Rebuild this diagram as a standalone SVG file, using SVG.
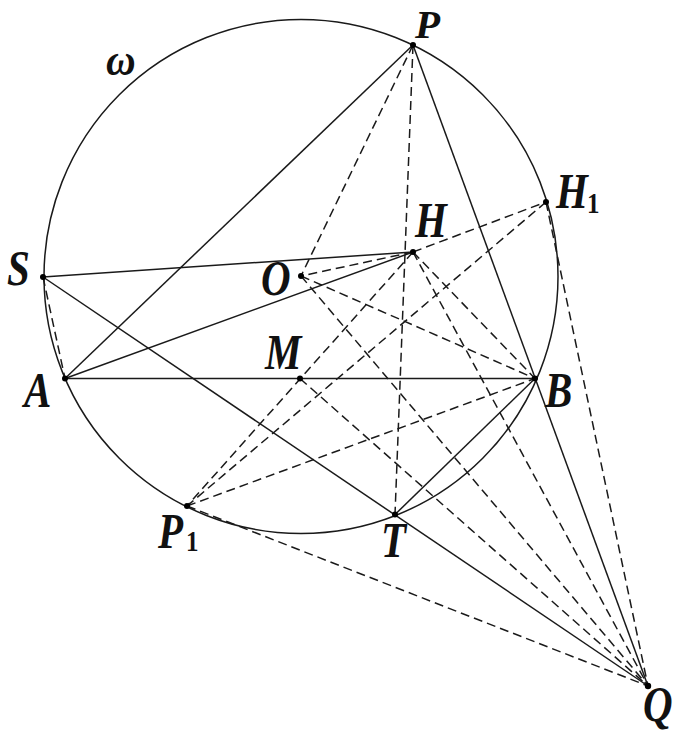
<svg xmlns="http://www.w3.org/2000/svg" width="684" height="734" viewBox="0 0 684 734">
<style>
.s{stroke:#1a1a1a;stroke-width:1.5;fill:none}
.d{stroke:#1a1a1a;stroke-width:1.5;fill:none;stroke-dasharray:9 5}
.pt{fill:#000}
text{font-family:"Liberation Serif",serif;font-weight:700;fill:#111}
.lb{font-style:italic;font-size:41px}
.sub{font-style:normal;font-size:25px}
</style>
<rect width="684" height="734" fill="#fff"/>
<g id="circle-omega"><circle class="s" cx="301" cy="276.5" r="257"/></g>
<g id="connectors">
<line class="s" x1="413" y1="45" x2="65" y2="378.5"/>
<line class="s" x1="413" y1="45" x2="648" y2="686"/>
<line class="s" x1="43" y1="277" x2="413" y2="252"/>
<line class="s" x1="65" y1="378.5" x2="413" y2="252"/>
<line class="s" x1="65" y1="378.5" x2="535" y2="378.5"/>
<line class="s" x1="43" y1="277" x2="648" y2="686"/>
<line class="s" x1="395" y1="514.5" x2="535" y2="378.5"/>
<line class="d" x1="43" y1="277" x2="65" y2="378.5"/>
<line class="d" x1="413" y1="45" x2="301" y2="276"/>
<line class="d" x1="413" y1="45" x2="395" y2="514.5"/>
<line class="d" x1="413" y1="252" x2="301" y2="276"/>
<line class="d" x1="413" y1="252" x2="546" y2="202"/>
<line class="d" x1="413" y1="252" x2="187" y2="506"/>
<line class="d" x1="413" y1="252" x2="535" y2="378.5"/>
<line class="d" x1="413" y1="252" x2="648" y2="686"/>
<line class="d" x1="301" y1="276" x2="535" y2="378.5"/>
<line class="d" x1="301" y1="276" x2="648" y2="686"/>
<line class="d" x1="300" y1="378.5" x2="648" y2="686"/>
<line class="d" x1="546" y1="202" x2="187" y2="506"/>
<line class="d" x1="546" y1="202" x2="648" y2="686"/>
<line class="d" x1="187" y1="506" x2="535" y2="378.5"/>
<line class="d" x1="187" y1="506" x2="648" y2="686"/>
</g>
<g id="P"><circle class="pt" cx="413" cy="45" r="3"/><text class="lb" x="415" y="38">P</text></g>
<g id="H1"><circle class="pt" cx="546" cy="202" r="3"/><text class="lb" transform="translate(556,208) scale(1,1.22)">H</text><text class="sub" transform="translate(587,213) scale(1,1.15)">1</text></g>
<g id="H"><circle class="pt" cx="413" cy="252" r="3"/><text class="lb" transform="translate(415,237) scale(1,1.22)">H</text></g>
<g id="O"><circle class="pt" cx="301" cy="276" r="3"/><text class="lb" transform="translate(261,295) scale(1,1.22)">O</text></g>
<g id="S"><circle class="pt" cx="43" cy="277" r="3"/><text class="lb" transform="translate(7,285) scale(1,1.22)">S</text></g>
<g id="A"><circle class="pt" cx="65" cy="378.5" r="3"/><text class="lb" transform="translate(24,407) scale(1,1.22)">A</text></g>
<g id="M"><circle class="pt" cx="300" cy="378.5" r="3"/><text class="lb" transform="translate(265,369) scale(1,1.22)">M</text></g>
<g id="B"><circle class="pt" cx="535" cy="378.5" r="3"/><text class="lb" transform="translate(545,407) scale(1,1.22)">B</text></g>
<g id="P1"><circle class="pt" cx="187" cy="506" r="3"/><text class="lb" transform="translate(158,548) scale(1,1.22)">P</text><text class="sub" transform="translate(186,551) scale(1,1.15)">1</text></g>
<g id="T"><circle class="pt" cx="395" cy="514.5" r="3"/><text class="lb" transform="translate(381,557) scale(1,1.22)">T</text></g>
<g id="Q"><circle class="pt" cx="648" cy="686" r="3.2"/><text class="lb" transform="translate(643,721) scale(1,1.22)">Q</text></g>
<g id="omega"><text class="lb" transform="translate(106,75) scale(1,1.1)">ω</text></g>
</svg>
